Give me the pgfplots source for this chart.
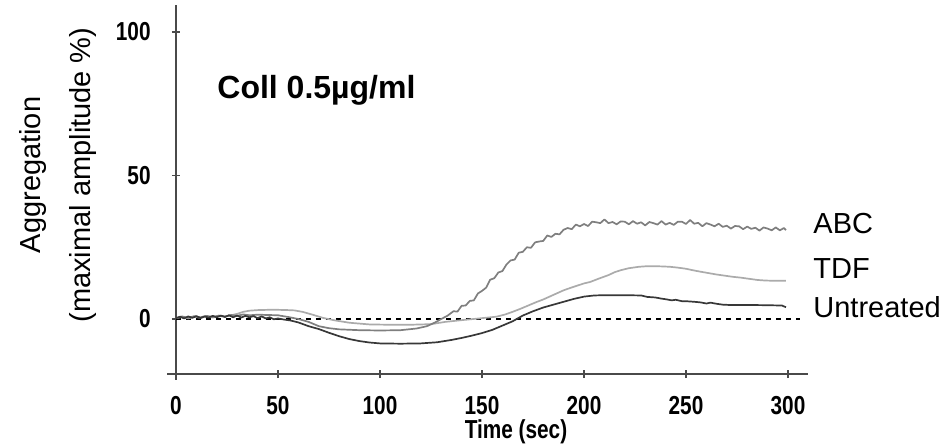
\documentclass[border=0pt]{standalone}
\usepackage{fontspec}
\setmainfont{Liberation Sans}
\newfontfamily\narrowbold[FakeStretch=0.8]{Liberation Sans Bold}
\usepackage{pgfplots}
\pgfplotsset{compat=1.18}
\definecolor{abc}{HTML}{7F7F7F}
\definecolor{tdf}{HTML}{ABABAB}
\definecolor{unt}{HTML}{383838}
\definecolor{axc}{HTML}{4A4A4A}
\begin{document}
\begin{tikzpicture}
\useasboundingbox (0,0) rectangle (474pt,222.5pt);
\begin{axis}[
 at={(83.5pt,35.5pt)}, anchor=south west,
 scale only axis, width=320.5pt, height=184.5pt,
 xmin=-4.41, xmax=309.8, ymin=-19.16, ymax=109.4,
 axis x line*=bottom, axis y line*=center,
 axis line style={axc, line width=1pt},
 xtick={0,50,...,300}, ytick={0,50,100},
 tick align=center, major tick length=4pt,
 tick style={axc, line width=0.8pt},
 /pgf/number format/assume math mode=true,
 ticklabel style={font=\narrowbold\fontsize{13}{13}\selectfont, inner sep=0pt, text=black},
 xticklabel style={anchor=north, yshift=-9pt},
 yticklabel style={anchor=east, xshift=-10.5pt},
 clip=false,
 every axis plot/.append style={no markers, line width=0.85pt, line join=round},
]
% dashed baseline
\addplot[black, dashed, dash pattern=on 2.5pt off 2.5pt, line width=0.8pt] coordinates {(0,0) (306,0)};
% TDF
\addplot[tdf] coordinates {
(0,0.3)(3,0.7)(6,0.2)(9,0.8)(12,0.4)(15,0.9)(18,0.5)(21,1.0)(24,0.8)(27,1.3)(30,1.8)(33,2.5)(36,2.9)(40,3.1)(45,3.2)(50,3.2)(55,3.1)(58,3.0)(62,2.5)(67,1.5)(72,0.4)(78,-0.5)(85,-1.3)(95,-1.9)(105,-2.0)(115,-2.0)(125,-1.8)(132,-1.0)(140,-0.4)(150,0.3)(157,0.8)(161,1.5)(165,2.5)(169,3.6)(173,4.8)(177,6.0)(180,6.8)(185,8.4)(190,10.0)(194,11.0)(197,11.7)(200,12.4)(203,12.9)(207,14.0)(212,15.3)(215,16.3)(218,17.0)(222,17.7)(227,18.2)(231,18.4)(235,18.4)(239,18.3)(242,18.2)(246,17.9)(250,17.5)(254,16.9)(257,16.5)(261,16.0)(265,15.5)(269,15.1)(273,14.7)(277,14.4)(281,14.0)(285,13.6)(289,13.4)(294,13.3)(299,13.3)};
% ABC
\addplot[abc] coordinates {
(0,0.3)(3,0.9)(6,0.4)(9,1.0)(12,0.6)(15,1.1)(18,0.7)(21,1.2)(24,0.9)(27,1.4)(30,1.1)(33,1.6)(36,1.3)(40,1.5)(45,1.4)(50,1.3)(55,0.7)(60,0.0)(65,-1.0)(70,-2.5)(75,-3.2)(80,-3.6)(90,-3.9)(100,-4.0)(110,-3.9)(118,-3.3)(123,-2.5)(127,-1.2)(130,0.0)(133,1.1)
(136,2.7)(138,2.6)(140,4.6)(142,4.7)(144,6.3)(146,6.5)(148,8.9)(150,9.8)(152,10.9)(154,13.7)(156,14.2)(158,16.2)(160,16.7)(162,19.0)(164,20.4)(166,20.7)(168,23.1)(170,23.4)(172,25.0)(174,24.8)(176,26.7)(178,27.0)(180,27.2)(182,29.1)(184,28.6)(186,29.7)(188,29.5)(190,31.1)(192,31.7)(194,31.3)(196,32.9)(198,32.3)(200,33.1)(202,32.4)(204,33.9)(206,33.7)(208,33.4)(210,34.7)(212,33.4)(214,33.8)(216,33.0)(218,34.0)(220,33.9)(222,33.0)(224,34.1)(226,33.2)(228,33.7)(230,32.6)(232,33.8)(234,33.4)(236,32.9)(238,34.1)(240,32.9)(242,33.5)(244,32.8)(246,33.9)(248,33.9)(250,33.1)(252,34.5)(254,33.2)(256,33.5)(258,32.3)(260,33.4)(262,32.9)(264,32.3)(266,33.2)(268,32.1)(270,32.5)(272,31.5)(274,32.4)(276,32.3)(278,31.3)(280,32.2)(282,31.4)(284,31.8)(286,30.8)(288,31.9)(290,31.5)(292,30.9)(294,31.9)(296,30.9)(298,31.7)(299,31.0)};
% Untreated
\addplot[unt] coordinates {
(0,0.3)(2,0.8)(4,0.2)(6,0.9)(8,0.4)(10,1.0)(12,0.3)(14,0.9)(16,0.5)(18,1.1)(20,0.6)(22,1.2)(24,0.7)(26,1.3)(28,0.6)(30,1.2)(32,0.5)(34,1.1)(36,0.6)(38,1.0)(40,0.3)(42,0.9)(44,0.2)(46,0.6)(48,-0.1)(50,0.2)(53,-0.2)(56,-0.5)(60,-1.2)(65,-2.5)(70,-3.5)(75,-4.8)(80,-6.0)(85,-7.0)(90,-7.7)(95,-8.2)(100,-8.5)(110,-8.6)(120,-8.5)(128,-8.1)(135,-7.3)(140,-6.6)(145,-5.8)(150,-4.9)(155,-3.8)(160,-2.3)(165,-0.8)(170,1.2)(175,2.7)(180,4.0)(185,5.0)(190,6.0)(195,7.0)(200,7.8)(205,8.2)(210,8.3)(220,8.3)(228,8.2)(231,7.7)(235,7.5)(238,7.1)(240,6.9)(243,6.5)(245,6.7)(248,6.2)(250,6.2)(254,6.0)(257,5.8)(260,5.4)(262,5.7)(265,5.3)(268,5.0)(271,4.9)(280,4.9)(290,4.8)(297,4.7)(299,4.1)};
\draw[axc, line width=1pt] (axis cs:0,-19.16) -- ([yshift=-3pt]axis cs:0,-19.16);
\end{axis}
\begin{scope}[x=0.5pt,y=0.5pt]
\node[anchor=base west, inner sep=0pt, font=\bfseries\fontsize{16}{16}\selectfont] at (217,346) {Coll 0.5µg/ml};
\node[anchor=base west, inner sep=0pt, font=\fontsize{14.5}{14.5}\selectfont] at (813,212) {ABC};
\node[anchor=base west, inner sep=0pt, font=\fontsize{14.5}{14.5}\selectfont] at (813,167) {TDF};
\node[anchor=base west, inner sep=0pt, font=\fontsize{14.5}{14.5}\selectfont] at (813,127) {Untreated};
\node[rotate=90, inner sep=0pt, font=\fontsize{14.5}{14.5}\selectfont] at (33,270) {Aggregation};
\node[rotate=90, inner sep=0pt, font=\fontsize{14.5}{14.5}\selectfont] at (83,270) {(maximal amplitude \%)};
\node[inner sep=0pt, font=\narrowbold\fontsize{13}{13}\selectfont] at (516,13) {Time (sec)};
\end{scope}
\end{tikzpicture}
\end{document}
